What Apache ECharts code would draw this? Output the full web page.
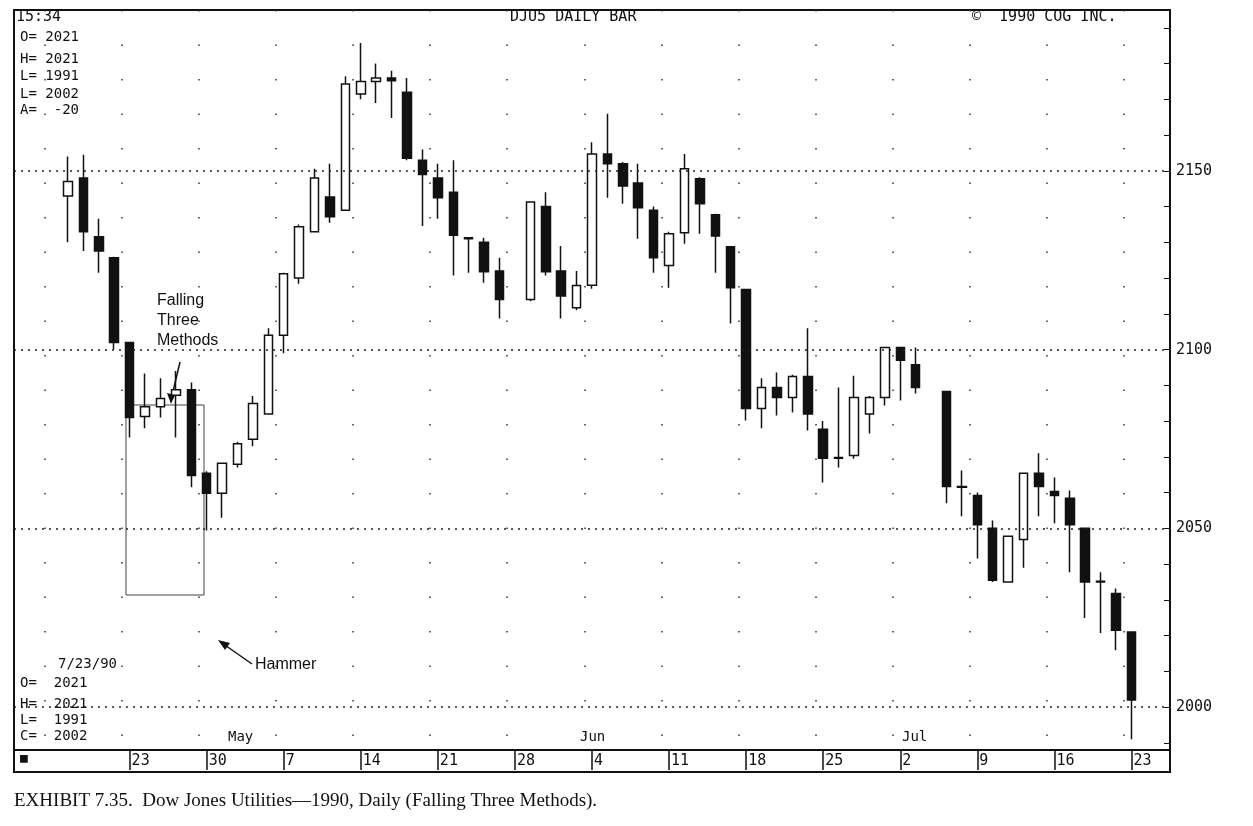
<!DOCTYPE html>
<html style="height: 100%">
<head>
    <meta charset="UTF-8">
    <title>DJU5 Daily Bar</title>
    <script src="https://cdn.jsdelivr.net/npm/echarts@6/dist/echarts.min.js"></script>
</head>
<body style="height: 100%; margin: 0; background: #fff">
<div id="container" style="width: 1253px; height: 826px"></div>
<script type="text/javascript">
    // trading days, Apr 12 - Jul 25 1990 (5/28 and 7/4 are holidays); chart data Apr 17 - Jul 23
    var days = ['4/12','4/13','4/16','4/17','4/18','4/19','4/20','4/23','4/24','4/25','4/26','4/27','4/30',
        '5/1','5/2','5/3','5/4','5/7','5/8','5/9','5/10','5/11','5/14','5/15','5/16','5/17','5/18',
        '5/21','5/22','5/23','5/24','5/25','5/28','5/29','5/30','5/31','6/1',
        '6/4','6/5','6/6','6/7','6/8','6/11','6/12','6/13','6/14','6/15',
        '6/18','6/19','6/20','6/21','6/22','6/25','6/26','6/27','6/28','6/29',
        '7/2','7/3','7/4','7/5','7/6','7/9','7/10','7/11','7/12','7/13',
        '7/16','7/17','7/18','7/19','7/20','7/23','7/24','7/25'];
    var mondays = ['4/16','4/23','4/30','5/7','5/14','5/21','5/28','6/4','6/11','6/18','6/25','7/2','7/9','7/16','7/23'];
    // [open, close, low, high]
    var ohlc = [
        '-', '-', '-',
        [2143, 2147, 2130, 2154], [2148, 2133, 2127.6, 2154.5], [2131.6, 2127.6, 2121.5, 2136.6],
        [2125.7, 2102, 2100, 2126], [2102, 2081, 2075.4, 2102], [2081.3, 2084, 2078, 2093.3],
        [2084, 2086.3, 2081, 2092], [2087.2, 2088.8, 2075.4, 2094], [2088.8, 2064.8, 2061.5, 2090.8],
        [2065.4, 2059.8, 2049.4, 2066], [2059.8, 2068.2, 2053, 2068.4], [2067.9, 2073.7, 2067, 2074.2],
        [2074.9, 2084.9, 2073, 2087], [2082, 2104, 2082, 2106], [2104, 2121.2, 2099, 2121.5],
        [2120, 2134.4, 2118.4, 2135], [2133, 2148, 2133, 2150.6], [2142.7, 2137.2, 2135.5, 2152],
        [2139, 2174.3, 2138.8, 2176.5], [2171.5, 2175, 2170, 2185.8], [2175, 2176, 2169, 2180],
        [2176, 2175.2, 2164.8, 2178], [2172, 2153.5, 2153, 2176], [2153, 2149, 2134.6, 2156],
        [2148, 2142.5, 2136.6, 2152], [2144, 2132, 2120.7, 2153], [2131.3, 2131, 2121.5, 2131.5],
        [2130, 2121.8, 2118.7, 2131.3], [2122, 2114, 2108.7, 2125.7], '-',
        [2114, 2141.3, 2113.5, 2141.5], [2140, 2121.8, 2120.7, 2144], [2122, 2115, 2108.7, 2129],
        [2111.7, 2117.9, 2111, 2122], [2118, 2154.7, 2117, 2158], [2154.7, 2152, 2142.5, 2166],
        [2152, 2145.8, 2140.8, 2152.5], [2146.6, 2139.7, 2131, 2152], [2139, 2125.7, 2121.5, 2140],
        [2123.5, 2132.4, 2117.3, 2133], [2132.7, 2150.6, 2129.6, 2154.7], [2147.8, 2140.8, 2132.4, 2148.2],
        [2137.7, 2131.8, 2121.5, 2138], [2128.8, 2117.3, 2107.3, 2129], [2116.8, 2083.5, 2080.2, 2117],
        [2083.5, 2089.4, 2078, 2092], [2089.4, 2086.6, 2081.6, 2093.6], [2086.6, 2092.5, 2082.4, 2093],
        [2092.5, 2082, 2077.4, 2106], [2077.7, 2069.6, 2062.8, 2080], [2069.6, 2069.8, 2067, 2089.4],
        [2070.4, 2086.6, 2069.5, 2092.7], [2082, 2086.6, 2076.5, 2087], [2086.6, 2100.6, 2084.4, 2100.6],
        [2100.6, 2097, 2085.8, 2100.6], [2095.8, 2089.4, 2087.7, 2100.6], '-',
        [2088.3, 2061.7, 2057, 2088.5], [2061.7, 2061.5, 2053.4, 2066.2], [2059.2, 2051, 2041.6, 2060],
        [2050, 2035.5, 2035, 2052.2], [2035, 2047.8, 2034.8, 2048], [2046.9, 2065.4, 2039, 2065.6],
        [2065.4, 2061.7, 2053.4, 2071], [2060.3, 2059.2, 2051.4, 2064.2], [2058.4, 2051, 2037.7, 2060.6],
        [2050, 2035, 2024.9, 2050], [2035, 2035.2, 2020.7, 2037.7], [2031.8, 2021.5, 2015.9, 2033.2],
        [2021, 2002, 1991, 2021],
        '-', '-'
    ];
    var priceLines = [2000, 2050, 2100, 2150];
    var minorTicks = [];
    for (var t = 1990; t <= 2190; t += 10) minorTicks.push(t);

    var mono = '"DejaVu Sans Mono", "Liberation Mono", monospace';
    var chart = echarts.init(document.getElementById('container'));

    function txt(x, y, s, size, font, extra) {
        var o = { type: 'text', left: x, top: y, style: { text: s, font: (size || 14) + 'px ' + (font || mono), fill: '#111' } };
        if (extra) Object.assign(o.style, extra);
        return o;
    }
    function isLabelled(v) { return mondays.indexOf(v) >= 1; }

    var option = {
        animation: false,
        backgroundColor: '#fff',
        grid: { left: 14, right: 83, top: 10, bottom: 76, show: true, borderColor: '#111', borderWidth: 2 },
        xAxis: {
            type: 'category',
            data: days,
            boundaryGap: true,
            axisLine: { lineStyle: { color: '#111', width: 2 } },
            axisTick: {
                show: true, length: 20, alignWithLabel: true,
                interval: function (i, v) { return isLabelled(v); },
                lineStyle: { color: '#111', width: 1.5 }
            },
            axisLabel: {
                interval: function (i, v) { return isLabelled(v); },
                formatter: function (v) { return v.split('/')[1]; },
                align: 'left', padding: [0, 0, 0, 2], margin: 4,
                color: '#111', fontFamily: mono, fontSize: 15
            },
            splitLine: {
                show: true,
                interval: function (i, v) { return mondays.indexOf(v) >= 0; },
                lineStyle: { color: '#333', type: [1.5, 33], width: 1.5 }
            }
        },
        yAxis: {
            type: 'value', position: 'right', min: 1988, max: 2195, scale: true,
            axisLine: { show: true, lineStyle: { color: '#111', width: 2 } },
            axisTick: { show: true, inside: true, length: 6, customValues: minorTicks, lineStyle: { color: '#111' } },
            axisLabel: {
                customValues: priceLines, color: '#111', fontFamily: mono, fontSize: 15, margin: 6,
                formatter: function (v) { return String(v); }
            },
            splitLine: { show: false }
        },
        series: [{
            type: 'candlestick',
            data: ohlc,
            barWidth: 9,
            itemStyle: { color: '#fff', color0: '#111', borderColor: '#111', borderColor0: '#111', borderWidth: 1.5 },
            markLine: {
                silent: true, symbol: 'none', label: { show: false },
                lineStyle: { color: '#222', type: [2, 5], width: 1.5 },
                data: priceLines.map(function (p) { return { yAxis: p }; })
            }
        }],
        graphic: [
            txt(16, 10, '15:34', 15), txt(510, 10, 'DJU5 DAILY BAR', 15), txt(972, 10, '©  1990 COG INC.', 15),
            txt(20, 30, 'O= 2021', 14), txt(20, 52, 'H= 2021', 14), txt(20, 69, 'L= 1991', 14),
            txt(20, 87, 'L= 2002', 14), txt(20, 103, 'A=  -20', 14),
            txt(58, 657, '7/23/90', 14), txt(20, 676, 'O=  2021', 14), txt(20, 697, 'H=  2021', 14),
            txt(20, 713, 'L=  1991', 14), txt(20, 729, 'C=  2002', 14),
            txt(228, 730, 'May', 14), txt(580, 730, 'Jun', 14), txt(902, 730, 'Jul', 14),
            txt(20, 752, '■', 13),
            { type: 'rect', shape: { x: 14, y: 750, width: 1156, height: 22 }, style: { fill: 'none', stroke: '#111', lineWidth: 2 } },
            txt(157, 291, 'Falling\nThree\nMethods', 16, 'Arial, "Liberation Sans", sans-serif', { lineHeight: 20 }),
            { type: 'rect', shape: { x: 126, y: 405, width: 78, height: 190 }, style: { fill: 'none', stroke: '#444', lineWidth: 1 } },
            { type: 'line', shape: { x1: 180, y1: 362, x2: 171, y2: 400 }, style: { stroke: '#111', lineWidth: 1.5 } },
            { type: 'polygon', shape: { points: [[171, 404], [167, 393], [175, 395]] }, style: { fill: '#111' } },
            txt(255, 657, 'Hammer', 16, 'Arial, "Liberation Sans", sans-serif'),
            { type: 'line', shape: { x1: 252, y1: 664, x2: 222, y2: 643 }, style: { stroke: '#111', lineWidth: 1.5 } },
            { type: 'polygon', shape: { points: [[218, 640], [230, 643], [225, 650]] }, style: { fill: '#111' } },
            txt(14, 792, 'EXHIBIT 7.35.  Dow Jones Utilities\u20141990, Daily (Falling Three Methods).', 19,
                '"Liberation Serif", "DejaVu Serif", serif')
        ]
    };
    chart.setOption(option);
</script>
</body>
</html>
